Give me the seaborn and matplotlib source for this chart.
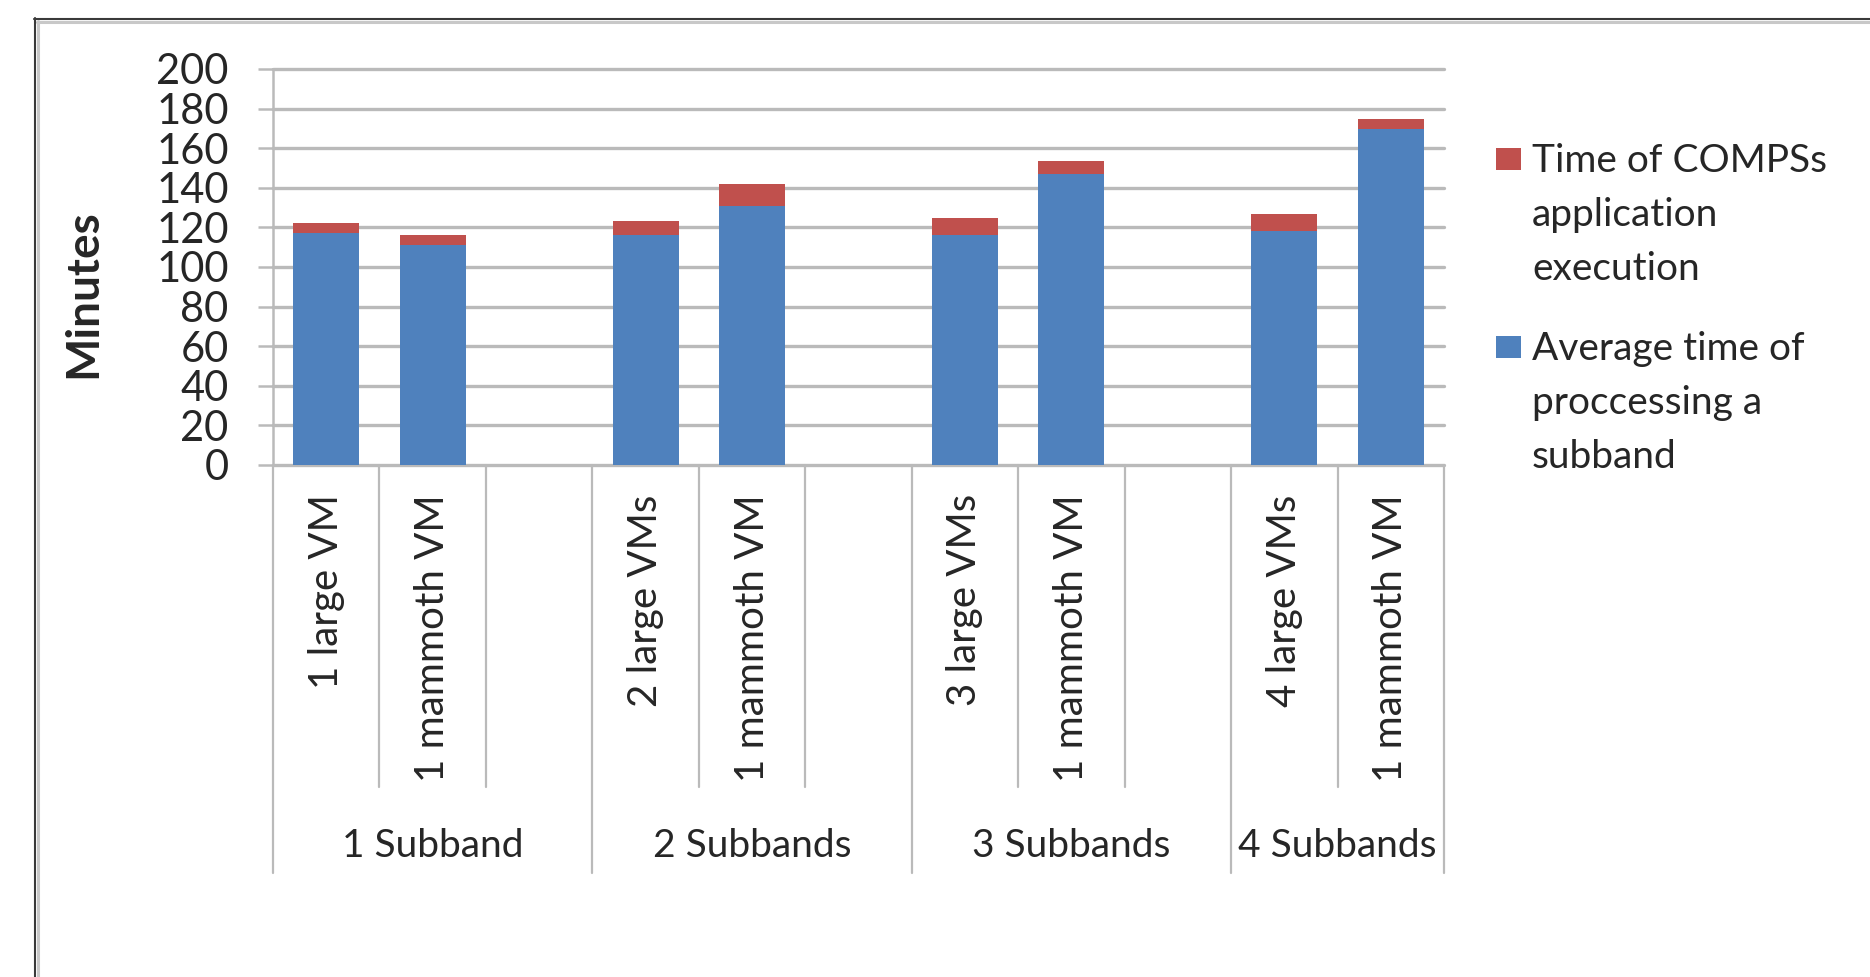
import matplotlib
matplotlib.use("Agg")
import matplotlib.pyplot as plt
from matplotlib.lines import Line2D
from matplotlib.patches import Rectangle
import pandas as pd
import seaborn as sns

# ---- data -------------------------------------------------------------
groups = ["1 Subband", "2 Subbands", "3 Subbands", "4 Subbands"]
configs = [
    ["1 large VM", "1 mammoth VM"],
    ["2 large VMs", "1 mammoth VM"],
    ["3 large VMs", "1 mammoth VM"],
    ["4 large VMs", "1 mammoth VM"],
]
avg_subband = [117, 111, 116, 131, 116, 147, 118, 169.5]   # minutes
compss_time = [5, 5, 7, 11, 9, 6.5, 9, 5]                  # minutes

legend_compss = ["Time of COMPSs", "application", "execution"]
legend_avg = ["Average time of", "proccessing a", "subband"]
y_ticks = [0, 20, 40, 60, 80, 100, 120, 140, 160, 180, 200]

BLUE = "#4F81BD"
RED = "#C0504D"
GRID = "#BABABA"

# ---- build slot table (two configs per group, one empty slot between groups)
rows, slot_order, slot_labels, group_bounds = [], [], [], [0]
i = 0
for g, (grp, cfgs) in enumerate(zip(groups, configs)):
    for cfg in cfgs:
        key = f"{grp}|{cfg}"
        slot_order.append(key)
        slot_labels.append(cfg)
        rows.append({"slot": key, "avg": avg_subband[i],
                     "total": avg_subband[i] + compss_time[i]})
        i += 1
    if g < len(groups) - 1:
        slot_order.append(f"gap{g}")
        slot_labels.append("")
    group_bounds.append(len(slot_order))
df = pd.DataFrame(rows)

# ---- figure -----------------------------------------------------------
sns.set_style("white")
plt.rcParams["font.family"] = ["Lato", "DejaVu Sans"]

W, H = 1870, 977
fig = plt.figure(figsize=(W / 100, H / 100), dpi=100)
ax = fig.add_axes([273 / W, 1 - 465 / H, (1444 - 273) / W, (465 - 69) / H])

sns.barplot(data=df, x="slot", y="total", order=slot_order, color=RED,
            saturation=1, width=0.62, linewidth=0, ax=ax)
sns.barplot(data=df, x="slot", y="avg", order=slot_order, color=BLUE,
            saturation=1, width=0.62, linewidth=0, ax=ax)

ax.set_ylim(0, 200)
ax.set_xlim(-0.5, len(slot_order) - 0.5)
ax.set_yticks(y_ticks)
ax.set_yticklabels([str(t) for t in y_ticks], fontsize=30)
ax.yaxis.grid(True, color=GRID, linewidth=2.4)
for gl in ax.get_ygridlines():
    gl.set_clip_on(False)
ax.set_axisbelow(True)
ax.tick_params(axis="y", direction="out", length=11, width=1.8,
               color=GRID, pad=21, left=True)
for side in ("top", "right", "bottom"):
    ax.spines[side].set_visible(False)
ax.spines["left"].set_color(GRID)
ax.spines["left"].set_linewidth(1.8)
ax.set_xlabel("")
ax.set_ylabel("")

# category tick labels (rotated)
ax.set_xticks(range(len(slot_order)))
ax.set_xticklabels(slot_labels, rotation=90, fontsize=29)
ax.tick_params(axis="x", length=0, pad=21)

# category separators below the axis
trans = ax.get_xaxis_transform()
ax_h = 465 - 69
short_y = -(787 - 465) / ax_h
long_y = -(873 - 465) / ax_h
for b in range(len(slot_order) + 1):
    y_end = long_y if b in group_bounds else short_y
    ax.plot([b - 0.5, b - 0.5], [0, y_end], transform=trans, color=GRID,
            linewidth=1.6, clip_on=False)

# group labels
label_y = -(846 - 465) / ax_h
for grp, a, b in zip(groups, group_bounds[:-1], group_bounds[1:]):
    ax.text((a + b - 1) / 2, label_y, grp, transform=trans, ha="center",
            va="center", fontsize=28)

# y axis title
fig.text(83 / W, 1 - 294 / H, "Minutes", rotation=90, ha="center",
         va="center", fontsize=33, fontweight="bold")

# legend
def legend_entry(color, lines, sq_top, first_base):
    fig.add_artist(Rectangle((1496 / W, 1 - (sq_top + 22) / H), 25 / W, 22 / H,
                             transform=fig.transFigure, color=color, lw=0))
    for k, line in enumerate(lines):
        fig.text(1532 / W, 1 - (first_base + 54 * k) / H, line, ha="left",
                 va="baseline", fontsize=28)

legend_entry(RED, legend_compss, 148, 172)
legend_entry(BLUE, legend_avg, 336, 360)

# chart frame (top and left edges)
fig.add_artist(Line2D([34 / W, 1], [1 - 19 / H] * 2, transform=fig.transFigure,
                      color="#3A3A3A", linewidth=1.5))
fig.add_artist(Line2D([37 / W, 1], [1 - 21.5 / H] * 2, transform=fig.transFigure,
                      color="#C8C8C8", linewidth=2.2))
fig.add_artist(Line2D([35 / W] * 2, [0, 1 - 18 / H], transform=fig.transFigure,
                      color="#3A3A3A", linewidth=1.5))
fig.add_artist(Line2D([37.5 / W] * 2, [0, 1 - 21 / H], transform=fig.transFigure,
                      color="#C8C8C8", linewidth=2.2))

fig.savefig("out.png", dpi=100, facecolor="white")
